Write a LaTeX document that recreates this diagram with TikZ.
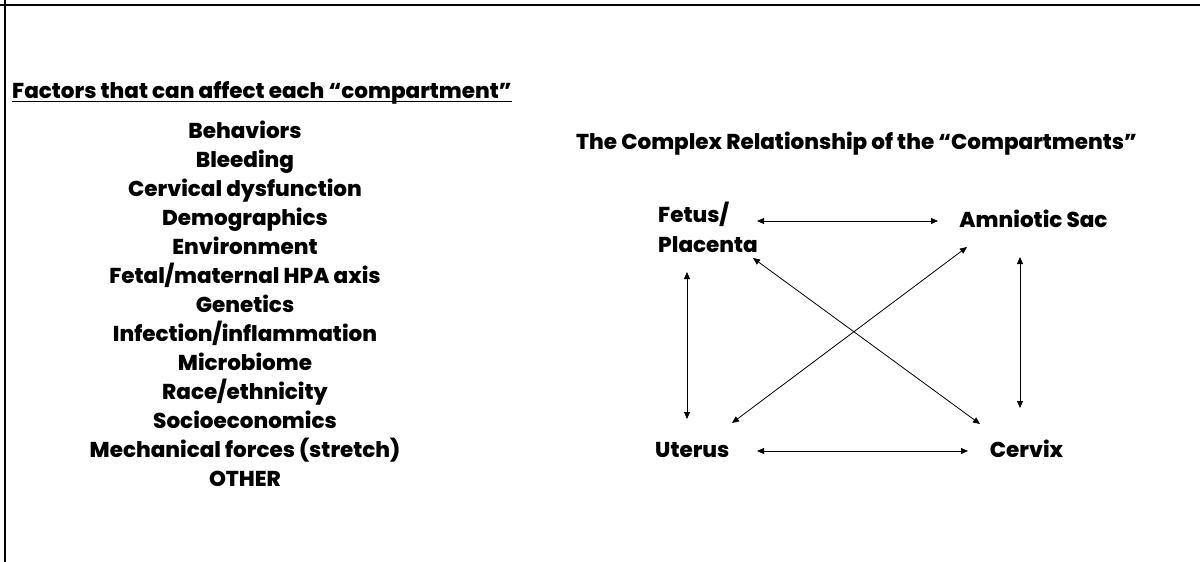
\documentclass[tikz,border=0pt]{standalone}
\usepackage{fontspec}
\setmainfont{Poppins}[UprightFont=* Bold, BoldFont=* ExtraBold]
\usetikzlibrary{arrows.meta}
\tikzset{
  txt/.style={inner sep=0pt, font=\fontsize{21.5}{25}\selectfont\bfseries},
  arr/.style={line width=0.8pt, {Triangle[length=7pt,width=6pt]}-{Triangle[length=7pt,width=6pt]}},
  frame/.style={line width=2pt, black}
}
\begin{document}
\begin{tikzpicture}[x=1pt,y=-1pt]
\useasboundingbox (0,0) rectangle (1200,562);
\draw[frame] (0,4.5) -- (1200,4.5);
\draw[frame] (4.5,0) -- (4.5,562);
% header
\node[txt, anchor=base west] (hdr) at (12,98) {Factors that can affect each “compartment”};
\draw[line width=1.5pt] ([yshift=-3.5pt]hdr.base west) -- ([yshift=-3.5pt]hdr.base east);
% list
\foreach \t [count=\i from 0] in {Behaviors, Bleeding, Cervical dysfunction, Demographics, Environment, Fetal/maternal HPA axis, Genetics, Infection/inflammation, Microbiome, Race/ethnicity, Socioeconomics, Mechanical forces (stretch), OTHER}
  \node[txt, anchor=base] (f\i) at (245,{138+29*\i}) {\t};
% title
\node[txt, anchor=base west] (title) at (576,149) {The Complex Relationship of the “Compartments”};
% compartments
\node[txt, anchor=base west] (fetus) at (658,222) {Fetus/};
\node[txt, anchor=base west] (plac) at (658,252) {Placenta};
\node[txt, anchor=base] (amn) at (1033.5,227) {Amniotic Sac};
\node[txt, anchor=base west] (ut) at (655,457) {Uterus};
\node[txt, anchor=base] (cx) at (1026.5,457) {Cervix};
% connectors
\draw[arr] ([shift={(99,-1)}]fetus.base west) -- ([shift={(-95.5,-6)}]amn.base);
\draw[arr] ([shift={(102,-6)}]ut.base west) -- ([shift={(-58.5,-6)}]cx.base);
\draw[arr] ([shift={(29,20)}]plac.base west) -- ([shift={(32,-38)}]ut.base west);
\draw[arr] ([shift={(-13.5,30)}]amn.base) -- ([shift={(-6.5,-49)}]cx.base);
\draw[arr] ([shift={(95,6)}]plac.base west) -- ([shift={(-46.5,-33)}]cx.base);
\draw[arr] ([shift={(-66.5,20)}]amn.base) -- ([shift={(77,-34)}]ut.base west);
\end{tikzpicture}
\end{document}
